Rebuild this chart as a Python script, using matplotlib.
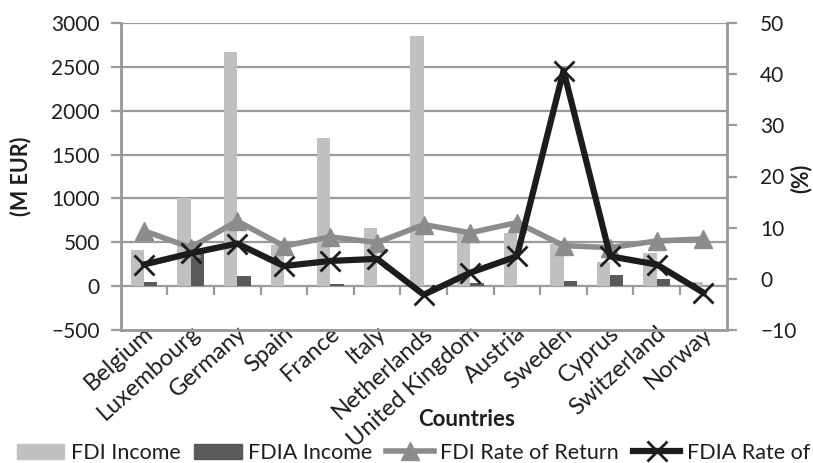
import numpy as np
import matplotlib
matplotlib.use("Agg")
import matplotlib.pyplot as plt
from matplotlib.patches import Patch
from matplotlib.lines import Line2D
import matplotlib.transforms as mtransforms

plt.rcParams['font.family'] = ['Lato', 'DejaVu Sans']

countries = ["Belgium", "Luxembourg", "Germany", "Spain", "France", "Italy",
             "Netherlands", "United Kingdom", "Austria", "Sweden", "Cyprus",
             "Switzerland", "Norway"]
fdi_income = [410, 1000, 2670, 470, 1685, 662, 2850, 605, 610, 480, 280, 377, 50]
fdia_income = [50, 390, 115, 0, 20, 5, 0, 38, 0, 62, 127, 77, 0]
fdi_rate = [9.4, 6.1, 11.3, 6.4, 8.2, 7.1, 10.6, 9.0, 11.0, 6.5, 6.1, 7.4, 7.8]
fdia_rate = [2.8, 5.0, 6.9, 2.5, 3.5, 3.9, -3.1, 1.2, 4.4, 40.7, 4.4, 2.8, -2.7]

light = "#bfc0c2"
dark = "#5a5a5c"
grid_c = "#9a9a9a"
txt = "#1e1e1e"

fig = plt.figure(figsize=(8.13, 4.63), dpi=100)
ax = fig.add_axes([120.7 / 813, 1 - 330 / 463, 606 / 813, 307 / 463])
ax2 = ax.twinx()

x = np.arange(len(countries))
w = 0.285
ax.bar(x - w / 2, fdi_income, w, color=light, zorder=2)
ax.bar(x + w / 2, fdia_income, w, color=dark, zorder=2)

ax.set_ylim(-500, 3000)
ax.set_yticks(np.arange(-500, 3001, 500))
ax.set_xlim(-0.5, len(countries) - 0.5)
for v in range(500, 3001, 500):
    ax.axhline(v, color=grid_c, lw=1.6, zorder=1)

# category axis crossing at zero, with tick marks between categories
ax.axhline(0, color=grid_c, lw=1.6, zorder=1)
ax.vlines(np.arange(0.5, len(countries) - 0.5, 1), -105, 0, color=grid_c, lw=1.6, zorder=1)

ax.set_xticks(x)
ax.set_xticklabels(countries, rotation=42, ha='right', va='center',
                   rotation_mode='anchor', fontsize=17, color=txt)
ax.tick_params(axis='x', length=0, pad=0)
offset = mtransforms.ScaledTranslation(6 / 100, 0, fig.dpi_scale_trans)
for lab in ax.get_xticklabels():
    lab.set_transform(lab.get_transform() + offset)

ax.tick_params(axis='y', length=7, width=1.6, color=grid_c, labelsize=15,
               labelcolor=txt, pad=8)
for s in ['top']:
    ax.spines[s].set_visible(False)
    ax2.spines[s].set_visible(False)
for s in ['left', 'bottom', 'right']:
    ax.spines[s].set_color(grid_c)
    ax.spines[s].set_linewidth(1.8)
    ax2.spines[s].set_color(grid_c)
    ax2.spines[s].set_linewidth(1.8)

ax2.plot(x, fdi_rate, color="#8c8c8e", lw=4, marker='^', markersize=13, zorder=3)
ax2.plot(x, fdia_rate, color="#1c1c1c", lw=4.5, marker='x', markersize=14,
         mew=2, zorder=4)
ax2.set_ylim(-10, 50)
ax2.set_yticks(np.arange(-10, 51, 10))
ax2.tick_params(axis='y', length=7, width=1.6, color=grid_c, labelsize=15,
                labelcolor=txt, pad=17)

fig.text(21 / 813, 1 - 176 / 463, "(M EUR)", rotation=90, ha='center', va='center',
         fontsize=15.5, fontweight='bold', color=txt)
fig.text(801 / 813, 1 - 178 / 463, "(%)", rotation=90, ha='center', va='center',
         fontsize=15.5, fontweight='bold', color=txt)
fig.text(467 / 813, 1 - 419 / 463, "Countries", ha='center', va='center',
         fontsize=16, fontweight='bold', color=txt)

handles = [
    Patch(color=light),
    Patch(color=dark),
    Line2D([], [], color="#8c8c8e", lw=4, marker='^', markersize=13),
    Line2D([], [], color="#1c1c1c", lw=4.5, marker='x', markersize=14, mew=2),
]
labels = ["FDI Income", "FDIA Income", "FDI Rate of Return", "FDIA Rate of Return"]
fig.legend(handles, labels, loc='center left', bbox_to_anchor=(6 / 813, 1 - 453 / 463),
           ncol=4, frameon=False, fontsize=15.5, handlelength=2.2, handletextpad=0.3,
           columnspacing=0.65, borderpad=0, labelcolor=txt)

fig.savefig("out.png", dpi=100)
